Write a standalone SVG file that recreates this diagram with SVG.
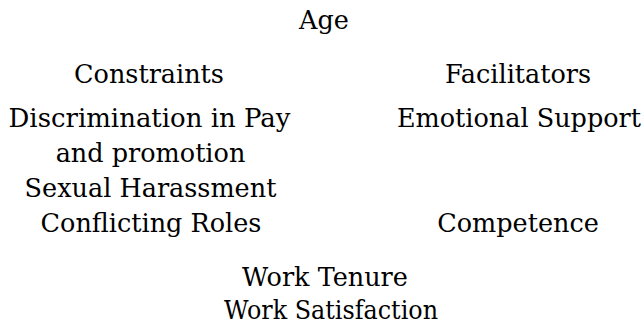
<svg xmlns="http://www.w3.org/2000/svg" width="643" height="327" viewBox="0 0 643 327">
<style>
text{font-family:"DejaVu Serif","Liberation Serif",serif;font-size:25.5px;fill:#000;text-anchor:middle}
</style>
<rect width="643" height="327" fill="#fff"/>
<g id="age"><text x="324" y="29">Age</text></g>
<g id="constraints">
<text x="149" y="83">Constraints</text>
<text x="149.5" y="127" textLength="282" lengthAdjust="spacingAndGlyphs">Discrimination in Pay</text>
<text x="150.5" y="162">and promotion</text>
<text x="150.5" y="197">Sexual Harassment</text>
<text x="151" y="232">Conflicting Roles</text>
</g>
<g id="facilitators">
<text x="518" y="83">Facilitators</text>
<text x="519" y="127">Emotional Support</text>
<text x="518" y="232">Competence</text>
</g>
<g id="outcomes">
<text x="325" y="286">Work Tenure</text>
<text x="331" y="319" textLength="214" lengthAdjust="spacingAndGlyphs">Work Satisfaction</text>
</g>
<g id="connectors"/>
</svg>
